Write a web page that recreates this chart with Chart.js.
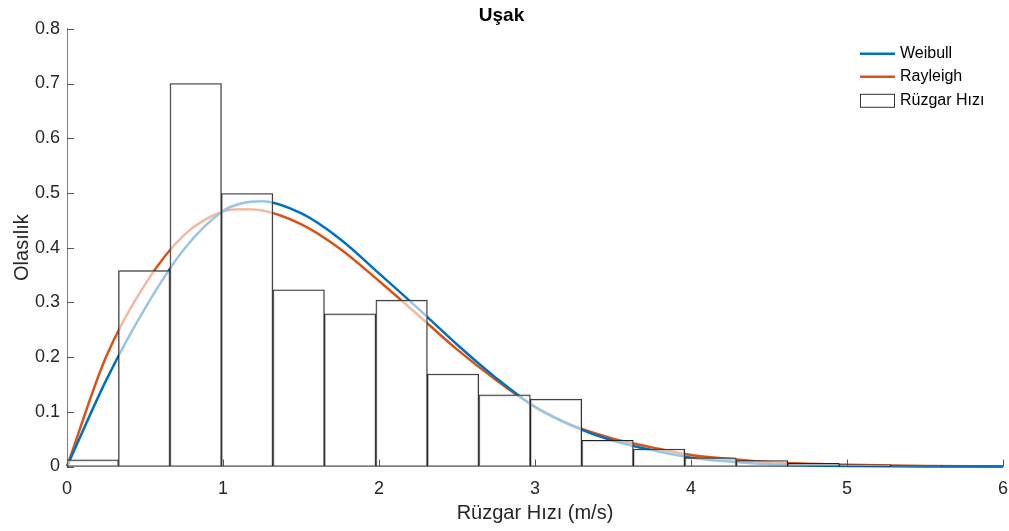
<!DOCTYPE html>
<html>
<head>
<meta charset="utf-8">
<script src="https://cdn.jsdelivr.net/npm/chart.js@4/dist/chart.umd.min.js"></script>
<style>
  html, body { margin: 0; padding: 0; background: #fff; }
  #wrap { width: 1009px; height: 531px; position: relative; }
</style>
</head>
<body>
<div id="wrap"><canvas id="chart"></canvas></div>
<script>
// Histogram (bin width 0.33 m/s, starting at 0)
const binWidth = 0.33;
const probabilities = [0.012, 0.358, 0.700, 0.499, 0.323, 0.279, 0.304, 0.169, 0.131, 0.123,
                       0.048, 0.032, 0.016, 0.011, 0.006, 0.003, 0.0015];

// Fitted curves
const curveX    = [0, 0.25, 0.5, 0.75, 1.0, 1.12, 1.25, 1.5, 1.75, 2.0, 2.25, 2.5, 2.75, 3.0,
                   3.25, 3.5, 3.75, 4.0, 4.25, 4.5, 4.75, 5.0, 5.5, 6.0];
const weibullY  = [0, 0.157, 0.289, 0.397, 0.467, 0.481, 0.485, 0.463, 0.416, 0.353, 0.289, 0.223, 0.162, 0.109,
                   0.073, 0.047, 0.030, 0.016, 0.009, 0.004, 0.002, 0.001, 0, 0];
const rayleighY = [0, 0.200, 0.333, 0.423, 0.466, 0.470, 0.468, 0.443, 0.398, 0.339, 0.277, 0.214, 0.158, 0.109,
                   0.074, 0.051, 0.035, 0.021, 0.014, 0.008, 0.005, 0.003, 0.001, 0];

const xTicks = [0, 1, 2, 3, 4, 5, 6];
const yTicks = [0, 0.1, 0.2, 0.3, 0.4, 0.5, 0.6, 0.7, 0.8];

const FONT = '"Liberation Sans", Arial, Helvetica, sans-serif';
const BLUE = '#0072BD';
const ORANGE = '#D95319';
const TEXT = '#262626';

const histPoints = probabilities.map((p, i) => ({ x: (i + 0.5) * binWidth, y: p }));
const weibullPoints = curveX.map((x, i) => ({ x: x, y: weibullY[i] }));
const rayleighPoints = curveX.map((x, i) => ({ x: x, y: rayleighY[i] }));

// Ticks pointing inward, MATLAB style
const inwardTicks = {
  id: 'inwardTicks',
  afterDraw(chart) {
    const ctx = chart.ctx;
    const area = chart.chartArea;
    const xs = chart.scales.x, ys = chart.scales.y;
    ctx.save();
    ctx.strokeStyle = '#555';
    ctx.lineWidth = 1;
    ctx.beginPath();
    xTicks.forEach(v => {
      const px = Math.round(xs.getPixelForValue(v)) + 0.5;
      ctx.moveTo(px, area.bottom);
      ctx.lineTo(px, area.bottom - 7);
    });
    yTicks.forEach(v => {
      const py = Math.round(ys.getPixelForValue(v)) + 0.5;
      ctx.moveTo(area.left, py);
      ctx.lineTo(area.left + 7, py);
    });
    ctx.stroke();
    ctx.restore();
  }
};

// Legend in the upper right, no box
const cornerLegend = {
  id: 'cornerLegend',
  afterDraw(chart) {
    const ctx = chart.ctx;
    const area = chart.chartArea;
    const x0 = area.right - 143;
    const rows = [area.top + 25, area.top + 48, area.top + 72];
    ctx.save();
    ctx.lineWidth = 2.5;
    ctx.strokeStyle = BLUE;
    ctx.beginPath(); ctx.moveTo(x0, rows[0]); ctx.lineTo(x0 + 35, rows[0]); ctx.stroke();
    ctx.strokeStyle = ORANGE;
    ctx.beginPath(); ctx.moveTo(x0, rows[1]); ctx.lineTo(x0 + 35, rows[1]); ctx.stroke();
    ctx.lineWidth = 1;
    ctx.strokeStyle = '#333';
    ctx.strokeRect(x0 + 0.5, rows[2] - 6.5, 34, 13);
    ctx.fillStyle = '#000';
    ctx.font = '16px ' + FONT;
    ctx.textBaseline = 'middle';
    ctx.fillText('Weibull', x0 + 40, rows[0]);
    ctx.fillText('Rayleigh', x0 + 40, rows[1]);
    ctx.fillText('Rüzgar Hızı', x0 + 40, rows[2]);
    ctx.restore();
  }
};

new Chart(document.getElementById('chart'), {
  type: 'bar',
  data: {
    datasets: [
      {
        type: 'bar',
        label: 'Rüzgar Hızı',
        data: histPoints,
        backgroundColor: 'rgba(255,255,255,0.6)',
        borderColor: '#222',
        borderWidth: 1,
        borderSkipped: false,
        barPercentage: 1,
        categoryPercentage: 1,
        grouped: false,
        order: 0
      },
      {
        type: 'line',
        label: 'Rayleigh',
        data: rayleighPoints,
        borderColor: ORANGE,
        borderWidth: 2.5,
        pointRadius: 0,
        cubicInterpolationMode: 'monotone',
        fill: false,
        clip: 6,
        order: 2
      },
      {
        type: 'line',
        label: 'Weibull',
        data: weibullPoints,
        borderColor: BLUE,
        borderWidth: 2.5,
        pointRadius: 0,
        cubicInterpolationMode: 'monotone',
        fill: false,
        clip: 6,
        order: 1
      }
    ]
  },
  options: {
    responsive: true,
    maintainAspectRatio: false,
    animation: false,
    layout: { padding: { left: 0, right: 6, top: 0, bottom: 0 } },
    plugins: {
      legend: { display: false },
      tooltip: { enabled: false },
      title: {
        display: true,
        text: 'Uşak',
        color: '#000',
        font: { family: FONT, size: 19, weight: 'bold' },
        padding: { top: 4, bottom: 2 }
      }
    },
    scales: {
      x: {
        type: 'linear',
        min: 0,
        max: 6,
        offset: false,
        afterBuildTicks: s => { s.ticks = xTicks.map(v => ({ value: v })); },
        afterFit: s => { s.height = 64.5; s.paddingLeft = 0; s.paddingRight = 0; },
        grid: { display: false, drawTicks: false },
        border: { display: true, color: '#a0a0a0', width: 1 },
        ticks: {
          color: TEXT,
          padding: 12,
          maxRotation: 0,
          font: { family: FONT, size: 18 }
        },
        title: {
          display: true,
          text: 'Rüzgar Hızı (m/s)',
          color: TEXT,
          font: { family: FONT, size: 20 },
          padding: { top: 0, bottom: 6 }
        }
      },
      y: {
        min: 0,
        max: 0.8,
        afterBuildTicks: s => { s.ticks = yTicks.map(v => ({ value: v })); },
        afterFit: s => { s.width = 67; s.paddingTop = 0; s.paddingBottom = 0; },
        grid: { display: false, drawTicks: false },
        border: { display: true, color: '#808080', width: 1 },
        ticks: {
          color: TEXT,
          padding: 7,
          font: { family: FONT, size: 18 }
        },
        title: {
          display: true,
          text: 'Olasılık',
          color: TEXT,
          font: { family: FONT, size: 20 },
          padding: { top: 10, bottom: 0 }
        }
      }
    }
  },
  plugins: [inwardTicks, cornerLegend]
});
</script>
</body>
</html>
